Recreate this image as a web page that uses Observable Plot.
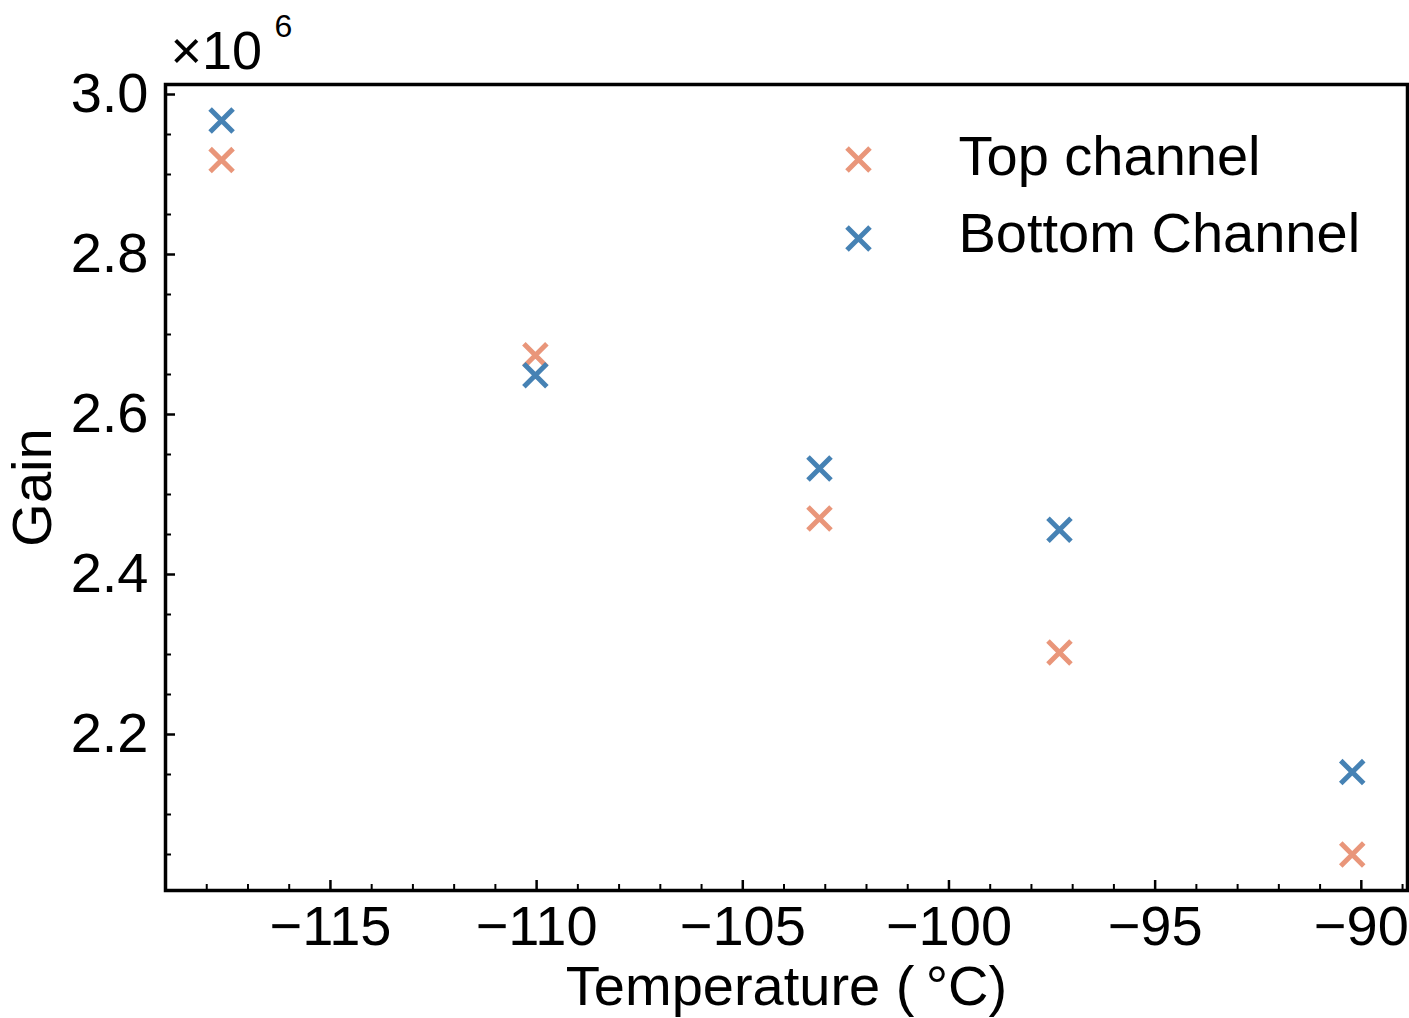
<!DOCTYPE html>
<html>
<head>
<meta charset="utf-8">
<script src="https://cdn.jsdelivr.net/npm/d3@7"></script>
<script src="https://cdn.jsdelivr.net/npm/@observablehq/plot@0.6"></script>
<style>
  html, body { margin: 0; padding: 0; background: #fff; }
  #chart { width: 1409px; height: 1018px; }
</style>
</head>
<body>
<div id="chart"></div>
<script>
// ---- data ----
const temperatures = [-117.64, -110.03, -103.14, -97.32, -90.22];   // °C
const topGain      = [2.918e6, 2.674e6, 2.470e6, 2.3025e6, 2.050e6];
const bottomGain   = [2.9675e6, 2.649e6, 2.5325e6, 2.456e6, 2.153e6];
const seriesNames  = ["Top channel", "Bottom Channel"];
const seriesColors = ["#E9967A", "#4682B4"];
const xMajorTicks  = [-115, -110, -105, -100, -95, -90];
const yMajorTicks  = [2.2e6, 2.4e6, 2.6e6, 2.8e6, 3.0e6];
const xLabel = "Temperature (\u2009°C)";
const yLabel = "Gain";
const expBase = "×10";
const expPow = "6";

// ---- derived tables ----
const rows = [];
temperatures.forEach((t, i) => {
  rows.push({temp: t, gain: topGain[i], series: seriesNames[0]});
  rows.push({temp: t, gain: bottomGain[i], series: seriesNames[1]});
});
const xMinorTicks = d3.range(-118, -88, 1).filter(v => !xMajorTicks.includes(v));
const yMinorTicks = d3.range(2.05, 3.001, 0.05).map(v => Math.round(v * 100) / 100 * 1e6)
  .filter(v => !yMajorTicks.some(m => Math.abs(m - v) < 1));

const FS = 56;
const font = "'Liberation Sans', Arial, sans-serif";

const chart = Plot.plot({
  width: 1409,
  height: 1018,
  marginLeft: 165,
  marginRight: 2,
  marginTop: 84,
  marginBottom: 128,
  style: {fontFamily: font, fontSize: FS + "px", background: "#fff", color: "#000"},
  x: {domain: [-119, -88.88], label: null},
  y: {domain: [2.005e6, 3.0125e6], label: null},
  color: {domain: seriesNames, range: seriesColors},
  marks: [
    // tick labels
    Plot.axisX({ticks: xMajorTicks, tickSize: 0, tickPadding: 15, fontSize: FS, label: null}),
    Plot.axisY({ticks: yMajorTicks, tickSize: 0, tickPadding: 17, fontSize: FS, label: null,
                tickFormat: d => (d / 1e6).toFixed(1)}),
    // inward ticks
    Plot.axisX({ticks: xMajorTicks, tickSize: -10, text: null, strokeWidth: 2.5, label: null}),
    Plot.axisX({ticks: xMinorTicks, tickSize: -6, text: null, strokeWidth: 2, label: null}),
    Plot.axisY({ticks: yMajorTicks, tickSize: -10, text: null, strokeWidth: 2.5, label: null}),
    Plot.axisY({ticks: yMinorTicks, tickSize: -6, text: null, strokeWidth: 2, label: null}),
    Plot.frame({stroke: "#000", strokeWidth: 3.5}),
    // data
    Plot.dot(rows, {x: "temp", y: "gain", stroke: "series", symbol: "times", r: 10.5, strokeWidth: 5}),
    // legend
    Plot.dot([seriesNames[0]], {frameAnchor: "top-left", dx: 693, dy: 75, symbol: "times", r: 10.5, strokeWidth: 5, stroke: seriesColors[0]}),
    Plot.dot([seriesNames[1]], {frameAnchor: "top-left", dx: 693, dy: 154, symbol: "times", r: 10.5, strokeWidth: 5, stroke: seriesColors[1]}),
    Plot.text([seriesNames[0]], {text: d => d, frameAnchor: "top-left", dx: 793, dy: 73, textAnchor: "start", lineAnchor: "middle", fontSize: FS}),
    Plot.text([seriesNames[1]], {text: d => d, frameAnchor: "top-left", dx: 793, dy: 150, textAnchor: "start", lineAnchor: "middle", fontSize: FS}),
    // axis labels
    Plot.text([xLabel], {text: d => d, frameAnchor: "bottom", dx: 0, dy: 97, textAnchor: "middle", lineAnchor: "middle", fontSize: FS}),
    Plot.text([yLabel], {text: d => d, frameAnchor: "left", dx: -132, rotate: -90, textAnchor: "middle", lineAnchor: "middle", fontSize: FS}),
    // exponent
    Plot.text([expBase], {text: d => d, frameAnchor: "top-left", dx: 5, dy: -33, textAnchor: "start", lineAnchor: "middle", fontSize: 54}),
    Plot.text([expPow], {text: d => d, frameAnchor: "top-left", dx: 109, dy: -58, textAnchor: "start", lineAnchor: "middle", fontSize: 32})
  ]
});
document.getElementById("chart").appendChild(chart);
</script>
</body>
</html>
